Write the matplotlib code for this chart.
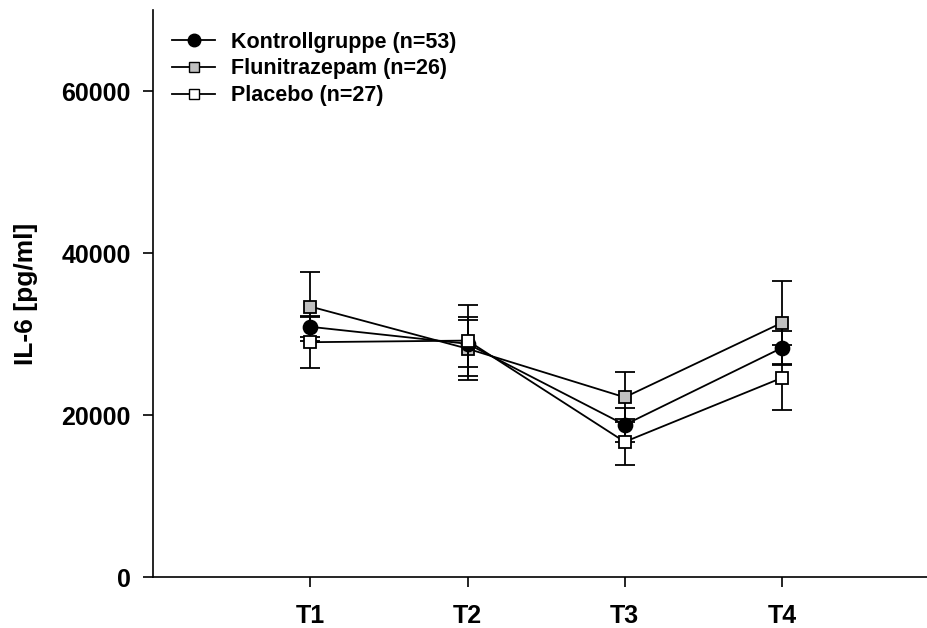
import matplotlib
matplotlib.use("Agg")
import matplotlib.pyplot as plt
from matplotlib.lines import Line2D

# --- data ---
timepoints = ["T1", "T2", "T3", "T4"]
x_pos = [1, 2, 3, 4]

kontroll = [30900, 28800, 18800, 28300]
kontroll_err = [1200, 2900, 2100, 2100]

fluni = [33400, 28200, 22200, 31400]
fluni_err = [4300, 3900, 3100, 5100]

placebo = [29000, 29200, 16700, 24600]
placebo_err = [3200, 4400, 2800, 4000]

labels = ["Kontrollgruppe (n=53)", "Flunitrazepam (n=26)", "Placebo (n=27)"]

plt.rcParams['font.family'] = ['Liberation Sans', 'DejaVu Sans']
plt.rcParams['font.weight'] = 'bold'

fig = plt.figure(figsize=(9.28, 6.28), dpi=100)
# x axis runs past the right edge of the figure, as in the reference
ax = fig.add_axes([0.165, 0.081, 0.847, 0.903])

common = dict(color='black', lw=1.3, elinewidth=1.3, capsize=7, capthick=1.3,
              markeredgecolor='black', markeredgewidth=1.3)

ax.errorbar(x_pos, fluni, yerr=fluni_err, marker='s', markersize=9,
            markerfacecolor='#c0c0c0', zorder=3, **common)
ax.errorbar(x_pos, kontroll, yerr=kontroll_err, marker='o', markersize=10,
            markerfacecolor='black', zorder=4, **common)
ax.errorbar(x_pos, placebo, yerr=placebo_err, marker='s', markersize=9,
            markerfacecolor='white', zorder=5, **common)

ax.set_xlim(0, 5)
ax.set_ylim(0, 70000)
ax.set_xticks(x_pos)
ax.set_xticklabels(timepoints)
ax.set_yticks([0, 20000, 40000, 60000])
ax.tick_params(axis='both', direction='out', length=7, width=1.2, labelsize=18, pad=9)
ax.tick_params(axis='x', pad=12)
for lab in ax.get_xticklabels() + ax.get_yticklabels():
    lab.set_fontweight('bold')

ax.spines['top'].set_visible(False)
ax.spines['right'].set_visible(False)
ax.spines['left'].set_linewidth(1.2)
ax.spines['bottom'].set_linewidth(1.2)

ax.set_ylabel("IL-6 [pg/ml]", fontsize=19, fontweight='bold', labelpad=17)

handles = [
    Line2D([], [], color='black', lw=1.3, marker='o', markersize=9,
           markerfacecolor='black', markeredgecolor='black'),
    Line2D([], [], color='black', lw=1.3, marker='s', markersize=7.5,
           markerfacecolor='#c0c0c0', markeredgecolor='black'),
    Line2D([], [], color='black', lw=1.3, marker='s', markersize=7.5,
           markerfacecolor='white', markeredgecolor='black'),
]
leg = ax.legend(handles, labels, loc='upper left', bbox_to_anchor=(0.024, 0.962),
                frameon=False, fontsize=15.5, handlelength=2.0, handletextpad=0.75,
                labelspacing=0.27, borderaxespad=0, borderpad=0)
for t in leg.get_texts():
    t.set_fontweight('bold')

fig.savefig("out.png", dpi=100)
